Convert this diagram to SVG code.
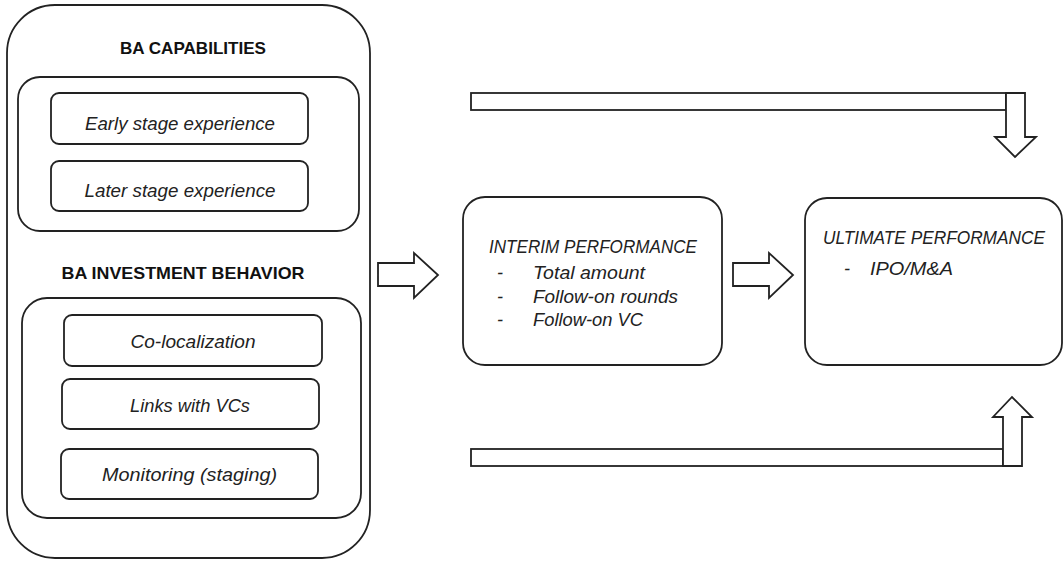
<svg xmlns="http://www.w3.org/2000/svg" width="1064" height="561" viewBox="0 0 1064 561">
<style>
.box{fill:#fff;stroke:#222;stroke-width:1.8}
.arr{fill:#fff;stroke:#222;stroke-width:1.8;stroke-linejoin:miter}
.h{font-family:"Liberation Sans",Arial,sans-serif;font-weight:bold;font-size:17px;fill:#111;text-anchor:middle}
.i{font-family:"Liberation Sans",Arial,sans-serif;font-style:italic;font-size:18px;fill:#222}
.c{text-anchor:middle}
</style>
<rect width="1064" height="561" fill="#fff"/>
<g id="ba-group">
  <rect class="box" x="7" y="5" width="363" height="553" rx="48" ry="48"/>
  <text class="h" x="193" y="54" textLength="146" lengthAdjust="spacingAndGlyphs">BA CAPABILITIES</text>
  <text class="h" x="183" y="279" textLength="243" lengthAdjust="spacingAndGlyphs">BA INVESTMENT BEHAVIOR</text>
</g>
<g id="ba-capabilities">
  <rect class="box" x="18" y="77" width="341" height="154" rx="22" ry="22"/>
</g>
<g id="early-stage">
  <rect class="box" x="51" y="93" width="257" height="51" rx="8" ry="8"/>
  <text class="i c" x="180" y="130" textLength="190" lengthAdjust="spacingAndGlyphs">Early stage experience</text>
</g>
<g id="later-stage">
  <rect class="box" x="51" y="161" width="257" height="50" rx="8" ry="8"/>
  <text class="i c" x="180" y="197" textLength="191" lengthAdjust="spacingAndGlyphs">Later stage experience</text>
</g>
<g id="ba-investment-behavior">
  <rect class="box" x="22" y="298" width="339" height="220" rx="25" ry="25"/>
</g>
<g id="co-localization">
  <rect class="box" x="64" y="315" width="258" height="51" rx="8" ry="8"/>
  <text class="i c" x="193" y="348" textLength="125" lengthAdjust="spacingAndGlyphs">Co-localization</text>
</g>
<g id="links-vcs">
  <rect class="box" x="62" y="379" width="257" height="50" rx="8" ry="8"/>
  <text class="i c" x="190" y="412" textLength="120" lengthAdjust="spacingAndGlyphs">Links with VCs</text>
</g>
<g id="monitoring">
  <rect class="box" x="61" y="449" width="257" height="50" rx="8" ry="8"/>
  <text class="i c" x="189.5" y="481" textLength="175" lengthAdjust="spacingAndGlyphs">Monitoring (staging)</text>
</g>
<g id="interim-performance">
  <rect class="box" x="463" y="197" width="259" height="168" rx="22" ry="22"/>
  <text class="i" x="489" y="253" font-size="19" textLength="208" lengthAdjust="spacingAndGlyphs">INTERIM PERFORMANCE</text>
  <text class="i" x="497" y="279">-</text>
  <text class="i" x="533" y="279" textLength="112" lengthAdjust="spacingAndGlyphs">Total amount</text>
  <text class="i" x="497" y="303">-</text>
  <text class="i" x="533" y="303" textLength="145" lengthAdjust="spacingAndGlyphs">Follow-on rounds</text>
  <text class="i" x="497" y="326">-</text>
  <text class="i" x="533" y="326" textLength="110" lengthAdjust="spacingAndGlyphs">Follow-on VC</text>
</g>
<g id="ultimate-performance">
  <rect class="box" x="805" y="198" width="257" height="167" rx="22" ry="22"/>
  <text class="i" x="823" y="244" font-size="19" textLength="222" lengthAdjust="spacingAndGlyphs">ULTIMATE PERFORMANCE</text>
  <text class="i" x="844" y="275">-</text>
  <text class="i" x="870" y="275" textLength="83" lengthAdjust="spacingAndGlyphs">IPO/M&amp;A</text>
</g>
<g id="connectors">
  <polygon class="arr" points="378,263 414,263 414,253 438,275 414,298 414,286 378,286"/>
  <polygon class="arr" points="733,263 769,263 769,253 793,275 769,298 769,286 733,286"/>
  <rect class="arr" x="471" y="93" width="535" height="17"/>
  <polygon class="arr" points="1006,93 1025,93 1025,137 1036,137 1015,157 995,137 1006,137"/>
  <rect class="arr" x="471" y="449" width="532" height="17"/>
  <polygon class="arr" points="1003,466 1022,466 1022,417 1032,417 1012,397 993,417 1003,417"/>
</g>
</svg>
